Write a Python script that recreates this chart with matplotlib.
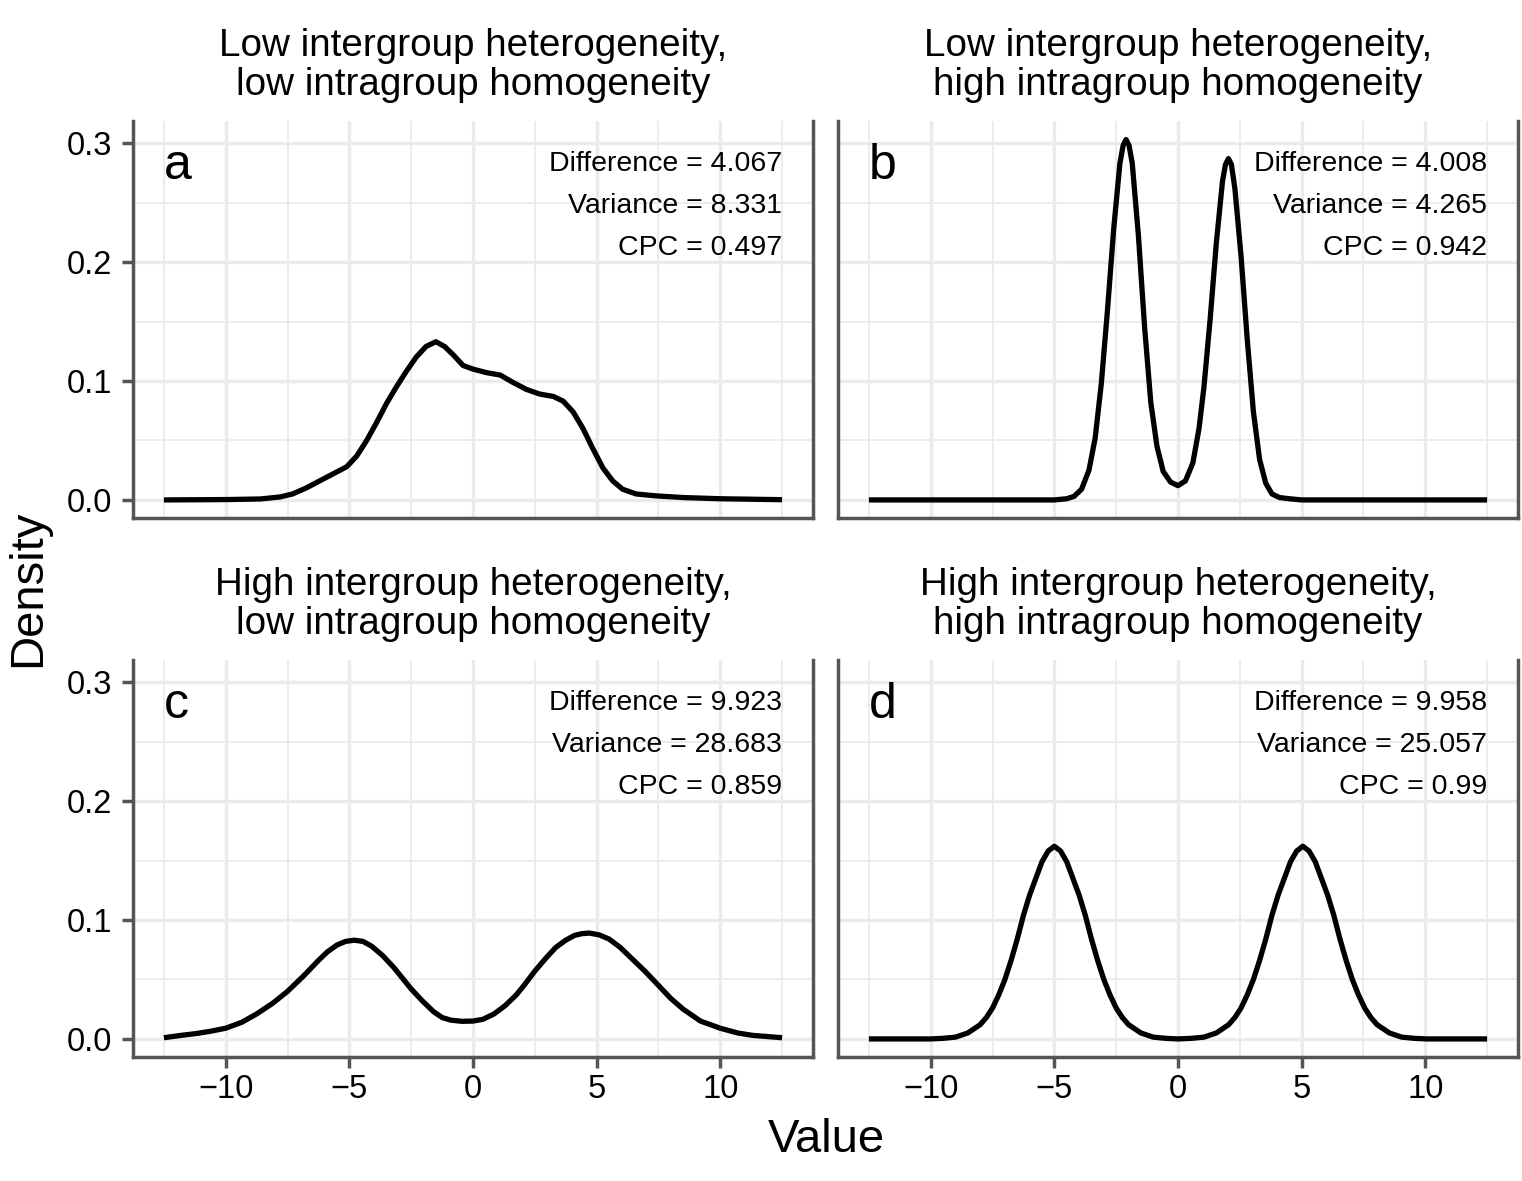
import matplotlib.pyplot as plt
from matplotlib.ticker import FixedLocator, FormatStrFormatter

plt.rcParams['font.family'] = ['Liberation Sans', 'DejaVu Sans']

# density curves (x = value, y = density)
a_x = [-12.5, -10.0, -8.6, -7.8, -7.3, -6.75, -6.2, -5.65, -5.1, -4.7, -4.3, -3.9, -3.5,
       -3.1, -2.7, -2.3, -1.9, -1.5, -1.15, -0.8, -0.4, 0.0, 0.55, 1.1, 1.6, 2.15, 2.7,
       3.25, 3.65, 4.05, 4.45, 4.85, 5.25, 5.65, 6.05, 6.6, 7.4, 8.5, 10.0, 12.5]
a_y = [0.0, 0.0003, 0.0008, 0.0025, 0.005, 0.010, 0.016, 0.022, 0.028, 0.037, 0.050, 0.065,
       0.081, 0.095, 0.108, 0.120, 0.129, 0.133, 0.129, 0.122, 0.113, 0.110, 0.107, 0.105,
       0.099, 0.093, 0.089, 0.087, 0.083, 0.074, 0.060, 0.043, 0.027, 0.016, 0.009, 0.005,
       0.0034, 0.002, 0.001, 0.0002]

b_x = [-12.5, -7.5, -5.0, -4.5, -4.2, -3.9, -3.6, -3.35, -3.1, -2.85, -2.6, -2.35, -2.22,
       -2.1, -1.98, -1.85, -1.6, -1.35, -1.1, -0.85, -0.6, -0.3, 0.0, 0.3, 0.6, 0.85, 1.05,
       1.3, 1.55, 1.8, 1.92, 2.04, 2.16, 2.3, 2.55, 2.8, 3.05, 3.3, 3.55, 3.8, 4.1, 4.5,
       5.0, 7.5, 12.5]
b_y = [0.0, 0.0, 0.0, 0.001, 0.003, 0.009, 0.025, 0.052, 0.098, 0.160, 0.228, 0.283, 0.298,
       0.303, 0.298, 0.283, 0.222, 0.145, 0.082, 0.045, 0.024, 0.015, 0.012, 0.016, 0.031,
       0.060, 0.095, 0.152, 0.216, 0.268, 0.282, 0.287, 0.282, 0.262, 0.205, 0.135, 0.074,
       0.034, 0.014, 0.005, 0.002, 0.001, 0.0, 0.0, 0.0]

c_x = [-12.5, -11.8, -11.2, -10.6, -10.0, -9.35, -8.75, -8.1, -7.5, -6.85, -6.25, -5.9,
       -5.5, -5.15, -4.8, -4.45, -4.1, -3.65, -3.2, -2.85, -2.5, -2.05, -1.6, -1.25, -0.9,
       -0.45, 0.0, 0.4, 0.85, 1.3, 1.75, 2.1, 2.5, 2.95, 3.35, 3.75, 4.1, 4.4, 4.7, 5.1,
       5.5, 5.95, 6.4, 6.95, 7.5, 8.0, 8.5, 9.2, 10.0, 10.7, 11.3, 12.5]
c_y = [0.001, 0.003, 0.0045, 0.0065, 0.009, 0.014, 0.021, 0.030, 0.040, 0.053, 0.066, 0.073,
       0.079, 0.082, 0.083, 0.082, 0.078, 0.070, 0.060, 0.051, 0.042, 0.032, 0.023, 0.018,
       0.0158, 0.0148, 0.015, 0.0165, 0.021, 0.028, 0.037, 0.046, 0.057, 0.068, 0.077,
       0.083, 0.087, 0.0885, 0.089, 0.0875, 0.084, 0.077, 0.068, 0.057, 0.045, 0.034, 0.025,
       0.015, 0.009, 0.005, 0.003, 0.001]

d_x = [-12.5, -10.0, -9.5, -9.0, -8.5, -8.0, -7.75, -7.5, -7.25, -7.0, -6.75, -6.5, -6.25,
       -6.0, -5.75, -5.5, -5.25, -5.0, -4.75, -4.5, -4.25, -4.0, -3.75, -3.5, -3.25, -3.0,
       -2.75, -2.5, -2.25, -2.0, -1.5, -1.0, -0.5, 0.0, 0.55, 1.05, 1.55, 2.05, 2.3, 2.55,
       2.8, 3.05, 3.3, 3.55, 3.8, 4.05, 4.3, 4.55, 4.8, 5.05, 5.3, 5.55, 5.8, 6.05, 6.3,
       6.55, 6.8, 7.05, 7.3, 7.55, 7.8, 8.05, 8.55, 9.05, 9.55, 10.05, 12.5]
d_y = [0.0, 0.0, 0.0005, 0.0015, 0.005, 0.012, 0.018, 0.026, 0.037, 0.050, 0.066, 0.084,
       0.104, 0.121, 0.135, 0.149, 0.158, 0.162, 0.158, 0.149, 0.135, 0.121, 0.104, 0.084,
       0.066, 0.050, 0.037, 0.026, 0.018, 0.012, 0.005, 0.0015, 0.0005, 0.0, 0.0005, 0.0015,
       0.005, 0.012, 0.018, 0.026, 0.037, 0.050, 0.066, 0.084, 0.104, 0.121, 0.135, 0.149,
       0.158, 0.162, 0.158, 0.149, 0.135, 0.121, 0.104, 0.084, 0.066, 0.050, 0.037, 0.026,
       0.018, 0.012, 0.005, 0.0015, 0.0005, 0.0, 0.0]

curves = [(a_x, a_y), (b_x, b_y), (c_x, c_y), (d_x, d_y)]

titles = [("Low intergroup heterogeneity,", "low intragroup homogeneity"),
          ("Low intergroup heterogeneity,", "high intragroup homogeneity"),
          ("High intergroup heterogeneity,", "low intragroup homogeneity"),
          ("High intergroup heterogeneity,", "high intragroup homogeneity")]
letters = ["a", "b", "c", "d"]
differences = ["4.067", "4.008", "9.923", "9.958"]
variances = ["8.331", "4.265", "28.683", "25.057"]
cpcs = ["0.497", "0.942", "0.859", "0.99"]

x_major = [-10, -5, 0, 5, 10]
x_minor = [-12.5, -7.5, -2.5, 2.5, 7.5, 12.5]
y_major = [0.0, 0.1, 0.2, 0.3]
y_minor = [0.05, 0.15, 0.25]

W, H = 1522, 1181
fig = plt.figure(figsize=(W / 100, H / 100), dpi=100)

# panel boxes in pixels: left, top, right, bottom
boxes = [(133, 121, 813, 518), (838, 121, 1518, 518),
         (133, 660, 813, 1057), (838, 660, 1518, 1057)]

axis_grey = "#555555"
grid_grey = "#EBEBEB"

for i, (l, t, r, b) in enumerate(boxes):
    ax = fig.add_axes([l / W, 1 - b / H, (r - l) / W, (b - t) / H])
    xs, ys = curves[i]
    ax.plot(xs, ys, color="black", lw=3.8, solid_joinstyle="round",
            solid_capstyle="butt", zorder=3)

    ax.set_xlim(-13.75, 13.75)
    ax.set_ylim(-0.0152, 0.3186)
    ax.xaxis.set_major_locator(FixedLocator(x_major))
    ax.xaxis.set_minor_locator(FixedLocator(x_minor))
    ax.yaxis.set_major_locator(FixedLocator(y_major))
    ax.yaxis.set_minor_locator(FixedLocator(y_minor))
    ax.yaxis.set_major_formatter(FormatStrFormatter("%.1f"))

    ax.grid(which="major", color=grid_grey, lw=2.4)
    ax.grid(which="minor", color=grid_grey, lw=1.3)
    ax.set_axisbelow(True)

    ax.spines["top"].set_visible(False)
    for side in ["left", "right", "bottom"]:
        ax.spines[side].set_color(axis_grey)
        ax.spines[side].set_linewidth(2.5)

    ax.tick_params(which="major", length=8, width=2.5, color=axis_grey,
                   labelsize=23.5, labelcolor="black")
    ax.tick_params(axis="x", which="major", pad=4)
    ax.tick_params(axis="y", which="major", pad=7)
    ax.tick_params(which="minor", length=0)

    if i < 2:
        ax.tick_params(axis="x", which="major", bottom=False, labelbottom=False)
    if i % 2 == 1:
        ax.tick_params(axis="y", which="major", left=False, labelleft=False)

    h = b - t
    ax.text(0.5, 1 + 65 / h, titles[i][0], transform=ax.transAxes,
            ha="center", va="baseline", fontsize=27.8)
    ax.text(0.5, 1 + 26 / h, titles[i][1], transform=ax.transAxes,
            ha="center", va="baseline", fontsize=27.8)

    ax.text(-12.5, 0.27, letters[i], ha="left", va="baseline", fontsize=36)
    ax.text(12.5, 0.2765, f"Difference = {differences[i]}", ha="right", va="baseline", fontsize=20.5)
    ax.text(12.5, 0.2412, f"Variance = {variances[i]}", ha="right", va="baseline", fontsize=20.5)
    ax.text(12.5, 0.2059, f"CPC = {cpcs[i]}", ha="right", va="baseline", fontsize=20.5)

fig.text(826 / W, 1 - 1140 / H, "Value", ha="center", va="center", fontsize=34)
fig.text(28 / W, 1 - 588 / H, "Density", ha="center", va="center", rotation=90, fontsize=34)

fig.savefig("out.png", dpi=100)
